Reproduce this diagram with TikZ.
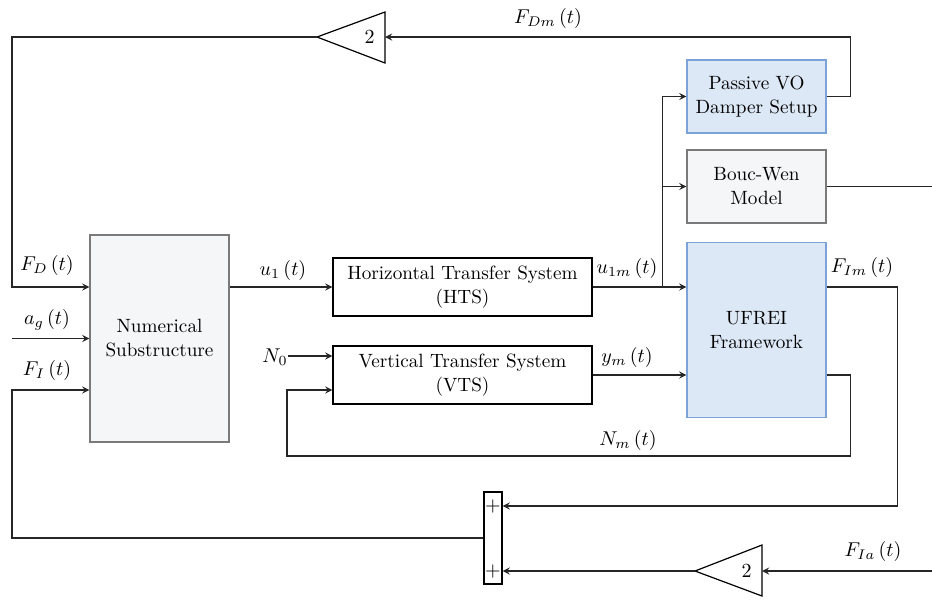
\documentclass[tikz,border=0pt]{standalone}
\usepackage{xcolor}
\usetikzlibrary{positioning}

\definecolor{boxblue}{HTML}{DCE8F6}
\definecolor{edgeblue}{HTML}{7BA3D8}
\definecolor{boxgray}{HTML}{F5F6F8}
\definecolor{edgegray}{HTML}{7A7A7A}

\tikzset{
  blk/.style={draw, line width=0.6pt, align=center, inner sep=0pt, font=\fontsize{9.6}{12}\selectfont},
  blueblk/.style={blk, draw=edgeblue, fill=boxblue, minimum width=69.5pt},
  grayblk/.style={blk, draw=edgegray, fill=boxgray, minimum width=69.5pt},
  tfblk/.style={blk, fill=white, minimum width=129.5pt, minimum height=29pt},
  sig/.style={font=\fontsize{10}{12}\selectfont, inner sep=0pt},
  wire/.style={line width=0.6pt, draw=black!85}
}

\begin{document}
\begin{tikzpicture}[x=0.5pt, y=-0.5pt]
	\useasboundingbox (0,0) rectangle (932,601);
	% blocks
	\node[grayblk, minimum height=103.5pt](num) at (159.5,338.5){Numerical\\Substructure};
	\node[tfblk](hts) at (462.5,287){Horizontal Transfer System\\(HTS)};
	\node[tfblk](vts) at (462.5,375){Vertical Transfer System\\(VTS)};
	\node[blueblk, minimum height=36.5pt](pas) at (756.5,96.5){Passive VO\\Damper Setup};
	\node[grayblk, minimum height=36.5pt](bw) at (756.5,186.5){Bouc-Wen\\Model};
	\node[blueblk, minimum height=87.5pt](ufrei) at (756.5,330){UFREI\\Framework};
	\node[draw, line width=0.6pt, fill=white, minimum width=9pt, minimum height=46pt, inner sep=0pt](sum) at (493,538){};
	\node[sig] at ([yshift=16pt]sum.center){$+$};
	\node[sig] at ([yshift=-16.5pt]sum.center){$+$};
	% gain triangles
	\coordinate (gTout) at (317,37);
	\coordinate (gTin) at (385,37);
	\coordinate (gBout) at (695,571);
	\coordinate (gBin) at (762,571);
	\draw[line width=0.6pt](gTout) -- ([yshift=12.5pt]gTin) -- ([yshift=-13pt]gTin) -- cycle;
	\draw[line width=0.6pt](gBout) -- ([yshift=13pt]gBin) -- ([yshift=-12.5pt]gBin) -- cycle;
	\node[sig, left=5pt of gTin]{$2$};
	\node[sig, left=5pt of gBin]{$2$};
	% helper points
	\coordinate (rail) at (12,0);
	\coordinate (edge) at (932,0);
	\coordinate (nFD) at ([yshift=25.75pt]num.west);
	\coordinate (nFI) at ([yshift=-25.75pt]num.west);
	\coordinate (vtsA) at ([yshift=9.5pt]vts.west);
	\coordinate (vtsB) at ([yshift=-7.5pt]vts.west);
	\coordinate (br) at ([xshift=-12pt]ufrei.west |- hts.east);
	\coordinate (fbB) at (287,456);
	\coordinate (sumA) at ([yshift=16pt]sum.east);
	\node[sig](n0) at (275,357){$N_{0}$};
	% connectors
	\draw[wire,-stealth](pas.east) -- ++(12pt,0) |- (gTin);
	\draw[wire,-stealth](gTout) -| (rail |- nFD) -- (nFD);
	\draw[wire,-stealth](rail |- num.west) -- (num.west);
	\draw[wire,-stealth](sum.west) -| (rail |- nFI) -- (nFI);
	\draw[wire,-stealth](num.east |- hts.west) -- (hts.west);
	\draw[wire,-stealth](hts.east) -- (ufrei.west |- hts.east);
	\draw[wire,-stealth](br) |- (pas.west);
	\draw[wire,-stealth](br) |- (bw.west);
	\draw[wire](bw.east) -- (edge |- bw.east);
	\draw[wire,-stealth](n0.east |- vtsA) -- (vtsA);
	\draw[wire,-stealth](vts.east) -- (ufrei.west |- vts.east);
	\draw[wire,-stealth](ufrei.east |- vts.east) -| ([xshift=12pt]ufrei.east |- fbB) -- (fbB) |- (vtsB);
	\draw[wire,-stealth](ufrei.east |- hts.east) -| ([xshift=35.5pt]ufrei.east |- sumA) -- (sumA);
	\draw[wire,-stealth](gBout) -- (sum.east |- gBout);
	\draw[wire,-stealth](edge |- gBin) -- (gBin);
	% signal labels
	\node[sig] at (548,18){$F_{Dm}\,(t)$};
	\node[sig] at (47,265){$F_{D}\,(t)$};
	\node[sig] at (47,320){$a_{g}\,(t)$};
	\node[sig] at (47,370){$F_{I}\,(t)$};
	\node[sig] at (283,270){$u_{1}\,(t)$};
	\node[sig] at (627,268){$u_{1m}\,(t)$};
	\node[sig] at (627,357){$y_{m}\,(t)$};
	\node[sig] at (628,440){$N_{m}\,(t)$};
	\node[sig] at (862,267){$F_{Im}\,(t)$};
	\node[sig] at (873,551){$F_{Ia}\,(t)$};
\end{tikzpicture}
\end{document}
